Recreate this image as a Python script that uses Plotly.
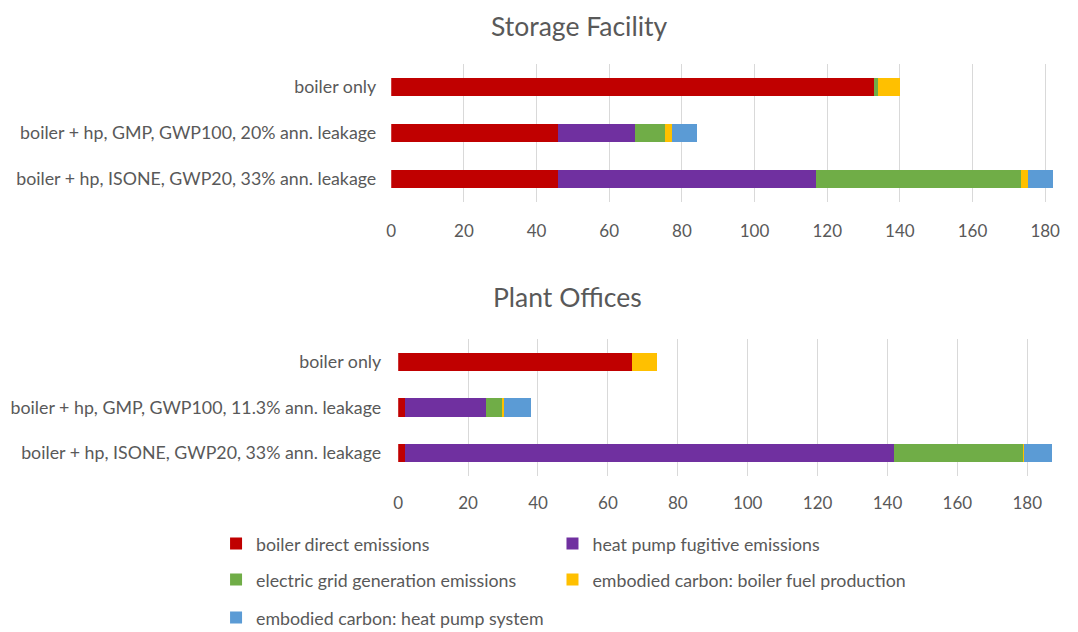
import plotly.graph_objects as go

# ---------------- data ----------------
series_names = [
    "boiler direct emissions",
    "heat pump fugitive emissions",
    "electric grid generation emissions",
    "embodied carbon: boiler fuel production",
    "embodied carbon: heat pump system",
]
colors = ["#C00000", "#7030A0", "#70AD47", "#FFC000", "#5B9BD5"]

storage_categories = [
    "boiler only",
    "boiler + hp, GMP, GWP100, 20% ann. leakage",
    "boiler + hp, ISONE, GWP20, 33% ann. leakage",
]
storage_boiler_direct = [133, 46, 46]
storage_hp_fugitive = [0, 21, 71]
storage_grid = [1, 8.3, 56.3]
storage_fuel = [6, 1.9, 1.9]
storage_hp_system = [0, 7, 7]

office_categories = [
    "boiler only",
    "boiler + hp, GMP, GWP100, 11.3% ann. leakage",
    "boiler + hp, ISONE, GWP20, 33% ann. leakage",
]
office_boiler_direct = [67, 2, 2]
office_hp_fugitive = [0, 23, 140]
office_grid = [0, 5, 37]
office_fuel = [7, 0.2, 0.2]
office_hp_system = [0, 7.9, 7.8]

x_ticks = [0, 20, 40, 60, 80, 100, 120, 140, 160, 180]

storage_values = [storage_boiler_direct, storage_hp_fugitive, storage_grid,
                  storage_fuel, storage_hp_system]
office_values = [office_boiler_direct, office_hp_fugitive, office_grid,
                 office_fuel, office_hp_system]

FONT = "Lato"
GREY = "#595959"
W, H = 1078, 632
OFF = 8  # page body margin offset

fig = go.Figure()
legend_ids = ["legend", "legend2", "legend3", "legend4", "legend5"]

for i, name in enumerate(series_names):
    fig.add_trace(go.Bar(
        y=storage_categories, x=storage_values[i], orientation="h",
        name=name, marker=dict(color=colors[i], line=dict(width=0)),
        xaxis="x", yaxis="y", legend=legend_ids[i], showlegend=True,
    ))
for i, name in enumerate(series_names):
    fig.add_trace(go.Bar(
        y=office_categories, x=office_values[i], orientation="h",
        name=name, marker=dict(color=colors[i], line=dict(width=0)),
        xaxis="x2", yaxis="y2", showlegend=False,
    ))

def px_x(p):
    return (p - OFF) / W

def px_y(p):
    return 1 - (p - OFF) / H

axis_common = dict(showline=False, zeroline=False, ticks="")
xtickfont = dict(family=FONT, size=17, color=GREY)
ytickfont = dict(family=FONT, size=17.8, color=GREY)

top_l, top_180 = 388, 1045
bot_l, bot_180 = 395, 1027

fig.update_layout(
    width=W, height=H,
    margin=dict(l=0, r=0, t=0, b=0),
    paper_bgcolor="white", plot_bgcolor="white",
    barmode="stack", bargap=0.6,
    font=dict(family=FONT, color=GREY),
    xaxis=dict(domain=[px_x(top_l), px_x(top_l + 185 * (top_180 - top_l) / 180)],
               range=[0, 185],
               tickvals=x_ticks, showgrid=True, gridcolor="#D9D9D9", gridwidth=1,
               anchor="y", ticklabelstandoff=17, tickfont=xtickfont, **axis_common),
    yaxis=dict(domain=[px_y(202), px_y(64)], autorange="reversed",
               showgrid=False, anchor="x", ticklabelstandoff=14, tickfont=ytickfont,
               **axis_common),
    xaxis2=dict(domain=[px_x(bot_l), px_x(bot_l + 190 * (bot_180 - bot_l) / 180)],
                range=[0, 190],
                tickvals=x_ticks, showgrid=True, gridcolor="#D9D9D9", gridwidth=1,
                anchor="y2", ticklabelstandoff=15, tickfont=xtickfont, **axis_common),
    yaxis2=dict(domain=[px_y(476), px_y(339)], autorange="reversed",
                showgrid=False, anchor="x2", ticklabelstandoff=16, tickfont=ytickfont,
                **axis_common),
    annotations=[
        dict(text="Storage Facility", x=px_x(577), y=px_y(26), xref="paper", yref="paper",
             xanchor="center", yanchor="middle", showarrow=False,
             font=dict(family=FONT, size=26.5, color=GREY)),
        dict(text="Plant Offices", x=px_x(565), y=px_y(297), xref="paper", yref="paper",
             xanchor="center", yanchor="middle", showarrow=False,
             font=dict(family=FONT, size=26.5, color=GREY)),
    ],
)

legend_pos = [(235, 547), (573, 547), (235, 583), (573, 583), (235, 621)]
for lid, (lx, ly) in zip(legend_ids, legend_pos):
    fig.update_layout({lid: dict(
        x=px_x(lx - 23), y=px_y(ly - 3), xanchor="left", yanchor="middle",
        orientation="h", bgcolor="rgba(0,0,0,0)", borderwidth=0,
        font=dict(family=FONT, size=17.8, color=GREY),
    )})

fig.write_html("out.html")
